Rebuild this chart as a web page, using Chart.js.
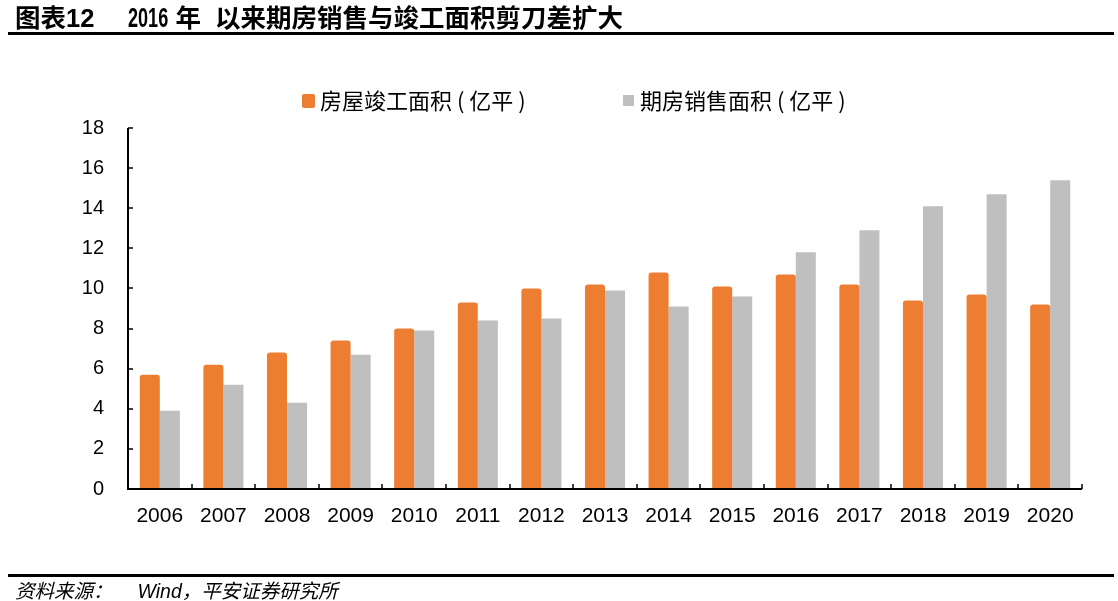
<!DOCTYPE html>
<html>
<head>
<meta charset="utf-8">
<script src="https://cdn.jsdelivr.net/npm/chart.js@4.4.1/dist/chart.umd.min.js"></script>
<style>
    html, body { margin: 0; padding: 0; background: #fff; }
    #wrap { position: relative; width: 1118px; height: 601px; overflow: hidden; }
    #chart { position: absolute; left: 0; top: 0; }
    .title {
        position: absolute; left: 15px; top: -3px; height: 28px; line-height: 28px;
        font: bold 25.5px "Liberation Sans", "Noto Sans CJK SC", sans-serif;
        color: #000; white-space: nowrap;
    }
    .title .num {
        display: inline-block; margin-left: 34px; margin-right: -20px;
        font-size: 27px; transform: scaleX(0.67); transform-origin: left center;
    }
    .title .gap { margin-left: 14px; }
    .rule { position: absolute; left: 8px; width: 1106px; height: 2.5px; background: #000; }
    .source {
        position: absolute; left: 15px; top: 575px; height: 22px; line-height: 22px;
        font: italic 19.5px "Liberation Sans", "Noto Sans CJK SC", sans-serif;
        color: #000; white-space: nowrap;
    }
    .source .gap { margin-left: 25px; }
</style>
</head>
<body>
<div id="wrap">
    <canvas id="chart" width="1118" height="601"></canvas>
    <div class="title">图表12<span class="num">2016</span> 年<span class="gap">以来期房销售与竣工面积剪刀差扩大</span></div>
    <div class="rule" style="top:32px"></div>
    <div class="rule" style="top:574px"></div>
    <div class="source">资料来源：<span class="gap">Wind，平安证券研究所</span></div>
</div>
<script>
    const years = ['2006', '2007', '2008', '2009', '2010', '2011', '2012', '2013', '2014', '2015', '2016', '2017', '2018', '2019', '2020'];
    // 房屋竣工面积 (亿平)
    const completed = [5.7, 6.2, 6.8, 7.4, 8.0, 9.3, 10.0, 10.2, 10.8, 10.1, 10.7, 10.2, 9.4, 9.7, 9.2];
    // 期房销售面积 (亿平)
    const presales = [3.9, 5.2, 4.3, 6.7, 7.9, 8.4, 8.5, 9.9, 9.1, 9.6, 11.8, 12.9, 14.1, 14.7, 15.4];
    const yTicks = [0, 2, 4, 6, 8, 10, 12, 14, 16, 18];

    const ORANGE = '#ED7D31';
    const GREY = '#BFBFBF';
    const NUM_FONT = '"Liberation Sans", "Noto Sans CJK SC", sans-serif';

    // axis lines with short inward ticks, like the excel original
    const axisPlugin = {
        id: 'axes',
        afterDatasetsDraw(chart) {
            const { ctx, scales: { x, y } } = chart;
            const top = y.getPixelForValue(yTicks[yTicks.length - 1]);
            const bottom = y.getPixelForValue(0);
            const left = x.left;
            const right = x.right;
            ctx.save();
            ctx.strokeStyle = '#000';
            ctx.lineWidth = 2;
            ctx.beginPath();
            ctx.moveTo(left, top);
            ctx.lineTo(left, bottom);
            ctx.lineTo(right, bottom);
            ctx.stroke();

            ctx.lineWidth = 1.5;
            ctx.beginPath();
            for (const v of yTicks) {
                const py = Math.round(y.getPixelForValue(v));
                ctx.moveTo(left, py);
                ctx.lineTo(left + 5, py);
            }
            for (let i = 1; i <= years.length; i++) {
                const px = Math.round(x.getPixelForValue(i - 0.5));
                ctx.moveTo(px, bottom);
                ctx.lineTo(px, bottom - 5);
            }
            ctx.stroke();
            ctx.restore();
        }
    };

    // legend drawn by hand so the gap between the two items matches
    const legendPlugin = {
        id: 'topLegend',
        afterDraw(chart) {
            const { ctx } = chart;
            const spots = [
                { box: [302, 94, 13, 14], radius: 2 },
                { box: [623, 95, 11, 11], radius: 0 },
            ];
            ctx.save();
            ctx.font = '22px "Noto Sans CJK SC", sans-serif';
            ctx.textBaseline = 'middle';
            chart.data.datasets.forEach((ds, i) => {
                const [bx, by, bw, bh] = spots[i].box;
                ctx.fillStyle = ds.backgroundColor;
                ctx.beginPath();
                ctx.roundRect(bx, by, bw, bh, spots[i].radius);
                ctx.fill();
                ctx.fillStyle = '#000';
                ctx.fillText(ds.label, 320 + (i ? 320 : 0), 101);
            });
            ctx.restore();
        }
    };

    new Chart(document.getElementById('chart'), {
        type: 'bar',
        data: {
            labels: years,
            datasets: [
                {
                    label: '房屋竣工面积 ( 亿平 )',
                    data: completed,
                    backgroundColor: ORANGE,
                    borderRadius: { topLeft: 3, topRight: 3 },
                    borderSkipped: 'bottom',
                },
                {
                    label: '期房销售面积 ( 亿平 )',
                    data: presales,
                    backgroundColor: GREY,
                    borderRadius: 0,
                },
            ]
        },
        options: {
            responsive: false,
            animation: false,
            devicePixelRatio: 1,
            categoryPercentage: 0.63,
            barPercentage: 1.0,
            layout: { padding: { top: 128, right: 36, bottom: 0, left: 0 } },
            plugins: {
                legend: { display: false },
                tooltip: { enabled: false },
            },
            scales: {
                x: {
                    grid: { display: false, drawTicks: false },
                    border: { display: false },
                    ticks: { color: '#000', font: { family: NUM_FONT, size: 21 }, padding: 15, maxRotation: 0 },
                    afterFit: s => { s.height = 112; },
                },
                y: {
                    min: 0,
                    max: 18,
                    grid: { display: false, drawTicks: false },
                    border: { display: false },
                    ticks: {
                        color: '#000',
                        font: { family: NUM_FONT, size: 20 },
                        padding: 24,
                        stepSize: 2,
                    },
                    afterBuildTicks: s => { s.ticks = yTicks.map(v => ({ value: v })); },
                    afterFit: s => { s.width = 128; },
                },
            },
        },
        plugins: [axisPlugin, legendPlugin],
    });
</script>
</body>
</html>
